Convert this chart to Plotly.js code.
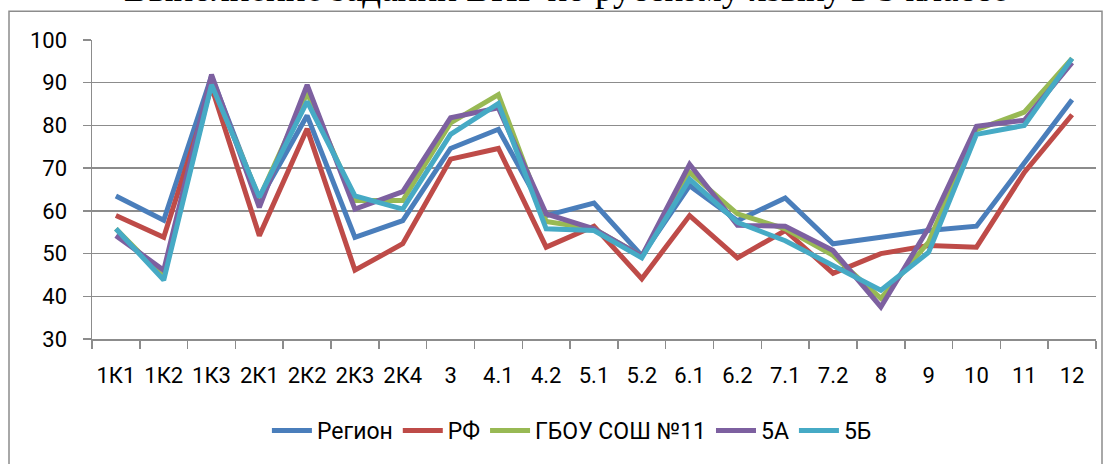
<!DOCTYPE html>
<html>
<head>
<meta charset="utf-8">
<script src="https://cdn.plot.ly/plotly-3.0.1.min.js"></script>
<style>
html,body{margin:0;padding:0;background:#fff;}
#chart{width:1111px;height:464px;}
</style>
</head>
<body>
<div id="chart"></div>
<script>
const categories = ["1К1","1К2","1К3","2К1","2К2","2К3","2К4","3","4.1","4.2","5.1","5.2","6.1","6.2","7.1","7.2","8","9","10","11","12"];
const seriesNames = ["Регион","РФ","ГБОУ СОШ №11","5А","5Б"];
const region = [63.5, 57.8, 91.5, 62.5, 82.3, 53.8, 57.7, 74.6, 79.1, 58.9, 61.8, 49.5, 65.9, 57.7, 63.0, 52.3, 53.8, 55.4, 56.4, 71.3, 86.0];
const rf     = [58.9, 53.8, 89.0, 54.2, 79.2, 46.1, 52.3, 72.1, 74.6, 51.5, 56.4, 44.1, 58.9, 49.0, 55.4, 45.4, 50.0, 51.9, 51.5, 69.0, 82.5];
const school = [55.8, 44.5, 90.0, 63.0, 87.6, 62.4, 62.4, 80.6, 87.2, 57.5, 55.8, 49.4, 69.0, 59.3, 55.8, 49.6, 39.5, 52.7, 79.0, 83.1, 95.7];
const class5a = [54.2, 46.1, 91.9, 60.8, 89.5, 60.4, 64.5, 81.8, 84.1, 59.3, 55.8, 49.4, 70.9, 56.6, 56.4, 50.7, 37.5, 56.0, 79.8, 81.2, 94.7];
const class5b = [55.8, 43.8, 89.5, 63.2, 85.6, 63.5, 60.4, 77.9, 85.1, 55.8, 55.4, 49.0, 67.4, 57.3, 53.0, 47.2, 41.4, 50.3, 77.9, 80.0, 95.7];
const yTicks = [30, 40, 50, 60, 70, 80, 90, 100];
const titleText = "Выполнение заданий ВПР по русскому языку в 5 классе";

const colors = ["#4A7EBB", "#BE4B48", "#98B954", "#7D60A0", "#46AAC5"];
const allSeries = [region, rf, school, class5a, class5b];

const traces = allSeries.map((vals, i) => ({
  type: "scatter",
  mode: "lines",
  x: categories,
  y: vals,
  name: seriesNames[i],
  line: {color: colors[i], width: 5}
}));

const gridCol = "#8C8C8C";
const fam = "Roboto, 'Liberation Sans', sans-serif";
const layout = {
  width: 1111,
  height: 464,
  margin: {l: 92, r: 15, t: 40, b: 123},
  paper_bgcolor: "#fff",
  plot_bgcolor: "#fff",
  font: {family: fam, size: 22, color: "#000"},
  showlegend: true,
  legend: {
    orientation: "h",
    x: 0.478, xanchor: "center",
    y: -0.306, yanchor: "middle",
    font: {family: fam, size: 23, color: "#000"},
    itemwidth: 40,
    tracegroupgap: 0
  },
  xaxis: {
    type: "category",
    showgrid: false,
    showline: true,
    linecolor: gridCol,
    linewidth: 1.5,
    ticks: "outside",
    tickson: "boundaries",
    ticklen: 8,
    tickcolor: gridCol,
    tickwidth: 1.5,
    tickangle: 0,
    ticklabelstandoff: 16,
    tickfont: {family: fam, size: 22, color: "#000"},
    range: [-0.5, categories.length - 0.5],
    fixedrange: true
  },
  yaxis: {
    range: [30, 100],
    tickvals: yTicks,
    ticktext: yTicks.map(String),
    showgrid: true,
    gridcolor: gridCol,
    gridwidth: 1.5,
    showline: true,
    linecolor: gridCol,
    linewidth: 1.5,
    ticks: "outside",
    ticklen: 8,
    tickcolor: gridCol,
    tickwidth: 1.5,
    ticklabelstandoff: 11,
    zeroline: false,
    tickfont: {family: fam, size: 22, color: "#000"},
    fixedrange: true
  },
  shapes: [{
    type: "rect",
    xref: "paper", yref: "paper",
    x0: (9 - 92) / 1004, x1: (1102 - 92) / 1004,
    y0: (341 - 480) / 301, y1: (341 - 11) / 301,
    line: {color: "#8C8C8C", width: 1.5},
    fillcolor: "rgba(0,0,0,0)",
    layer: "below"
  }],
  annotations: [{
    text: titleText,
    xref: "paper", yref: "paper",
    x: (566 - 92) / 1004, xanchor: "center",
    y: (341 - 11) / 301, yanchor: "bottom",
    showarrow: false,
    font: {family: "'Liberation Serif', 'Times New Roman', serif", size: 37, color: "#000"}
  }]
};

Plotly.newPlot("chart", traces, layout, {displayModeBar: false, staticPlot: true});
</script>
</body>
</html>
